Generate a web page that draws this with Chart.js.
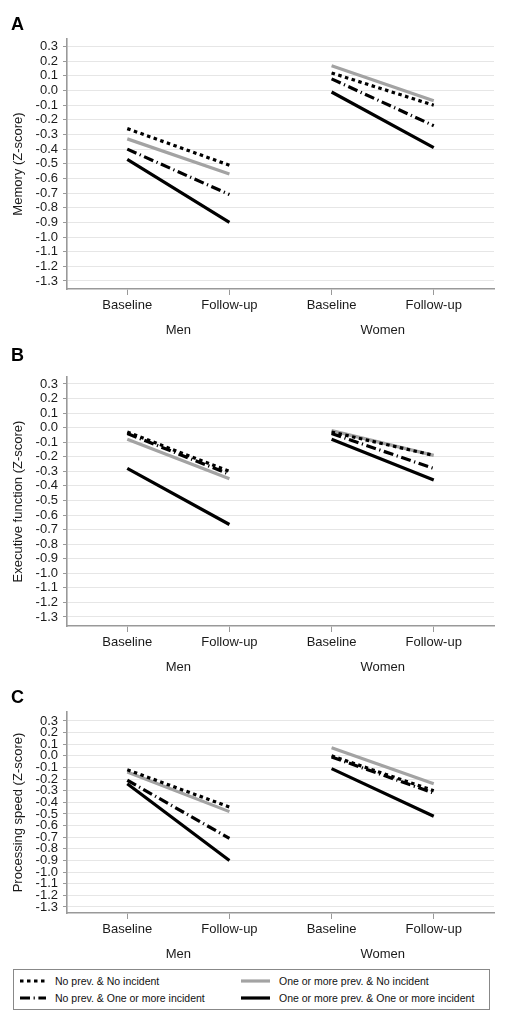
<!DOCTYPE html>
<html><head><meta charset="utf-8">
<script src="https://cdn.jsdelivr.net/npm/chart.js@4/dist/chart.umd.min.js"></script>
<style>
body{margin:0;background:#fff;width:508px;height:1020px;position:relative;overflow:hidden;font-family:"Liberation Sans",Arial,sans-serif;}
.pane{position:absolute;left:0;width:508px;}
#legend{position:absolute;left:13px;top:969px;width:477px;height:41px;border:1px solid #888;box-sizing:border-box;font-size:10.5px;color:#111;}
.item{position:absolute;display:flex;align-items:center;height:14px;white-space:nowrap;}
.item svg{margin-right:9px;}
</style></head><body>
<div class="pane" style="top:0;height:340px"><canvas id="cA"></canvas></div>
<div class="pane" style="top:340px;height:340px"><canvas id="cB"></canvas></div>
<div class="pane" style="top:680px;height:285px"><canvas id="cC"></canvas></div>
<div id="legend"></div>
<script>
// ---- data ----
const xTickLabels = ['Baseline','Follow-up','Baseline','Follow-up'];
const groupLabels = ['Men','Women'];
const yTicks = [0.3,0.2,0.1,0.0,-0.1,-0.2,-0.3,-0.4,-0.5,-0.6,-0.7,-0.8,-0.9,-1.0,-1.1,-1.2,-1.3];
const seriesNames = ['No prev. & No incident','One or more prev. & No incident','No prev. & One or more incident','One or more prev. & One or more incident'];
const yTitles = ['Memory (Z-score)','Executive function (Z-score)','Processing speed (Z-score)'];
const panelLetters = ['A','B','C'];
// values: [Men baseline, Men follow-up, Women baseline, Women follow-up]
const memNoNo     = [-0.26,-0.51, 0.12,-0.10];
const memPrevNo   = [-0.33,-0.57, 0.17,-0.07];
const memNoInc    = [-0.40,-0.71, 0.08,-0.24];
const memPrevInc  = [-0.47,-0.90,-0.01,-0.39];
const exeNoNo     = [-0.03,-0.30,-0.03,-0.19];
const exePrevNo   = [-0.08,-0.35,-0.02,-0.19];
const exeNoInc    = [-0.04,-0.32,-0.04,-0.28];
const exePrevInc  = [-0.28,-0.665,-0.08,-0.36];
const spdNoNo     = [-0.12,-0.44, 0.00,-0.30];
const spdPrevNo   = [-0.14,-0.48, 0.07,-0.24];
const spdNoInc    = [-0.21,-0.71,-0.01,-0.32];
const spdPrevInc  = [-0.24,-0.90,-0.11,-0.52];

// ---- styles ----
const styles = [
  {borderColor:'#000', borderWidth:3.2, borderDash:[3.5,3.5]},
  {borderColor:'#a3a3a3', borderWidth:3.2, borderDash:[]},
  {borderColor:'#000', borderWidth:3.2, borderDash:[10,3.6,1.2,3.6]},
  {borderColor:'#000', borderWidth:3.2, borderDash:[]}
];
const drawOrder = [0,3,1,2];

function pts(v){
  return [{x:1,y:v[0]},{x:2,y:v[1]},{x:2.5,y:null},{x:3,y:v[2]},{x:4,y:v[3]}];
}

const annot = {
  id:'annot',
  afterDraw(chart, args, opts){
    const ctx=chart.ctx, xs=chart.scales.x, a=chart.chartArea;
    ctx.save();
    ctx.fillStyle='#1a1a1a';
    ctx.font='13px "Liberation Sans", Arial, sans-serif';
    ctx.textAlign='center'; ctx.textBaseline='middle';
    groupLabels.forEach((g,i)=>ctx.fillText(g, xs.getPixelForValue(1.5+2*i), a.bottom+opts.groupOffset));
    ctx.font='bold 18px "Liberation Sans", Arial, sans-serif';
    ctx.textAlign='left'; ctx.fillStyle='#000';
    ctx.fillText(opts.letter, 11, opts.letterY);
    ctx.restore();
  }
};

function makeChart(id, idx, series, padTop, xHeight, yMin, yMax, letterY){
  new Chart(document.getElementById(id), {
    type:'line',
    data:{datasets: series.map((s,i)=>Object.assign({
      label:seriesNames[i], data:pts(s), pointRadius:0, fill:false, tension:0,
      spanGaps:false, order:drawOrder[i], borderCapStyle:'butt'
    }, styles[i]))},
    options:{
      responsive:true, maintainAspectRatio:false, animation:false,
      layout:{padding:{top:padTop,right:14,left:0,bottom:0}},
      plugins:{legend:{display:false}, tooltip:{enabled:false},
        annot:{letter:panelLetters[idx], letterY:letterY, groupOffset:41}},
      scales:{
        x:{type:'linear', min:0.41, max:4.59,
          afterBuildTicks:(s)=>{s.ticks=[1,2,3,4].map(v=>({value:v}));},
          afterFit:(s)=>{s.height=xHeight;},
          ticks:{callback:(v,i)=>xTickLabels[i], color:'#1a1a1a', padding:3, autoSkip:false, maxRotation:0,
            font:{family:'"Liberation Sans", Arial, sans-serif', size:13}},
          grid:{drawOnChartArea:false, drawTicks:true, tickLength:6, tickColor:'#999', color:'#999'},
          border:{display:true, color:'#999', width:1.6}
        },
        y:{min:yMin, max:yMax,
          afterBuildTicks:(s)=>{s.ticks=yTicks.map(v=>({value:v}));},
          afterFit:(s)=>{s.width=67;},
          ticks:{callback:(v)=>(Math.abs(v)<1e-9?0:v).toFixed(1), color:'#1a1a1a', padding:5, autoSkip:false,
            font:{family:'"Liberation Sans", Arial, sans-serif', size:13}},
          grid:{color:'#e6e6e6', lineWidth:1, tickLength:4, tickColor:'#999'},
          border:{display:true, color:'#999', width:1.6},
          title:{display:true, text:yTitles[idx], color:'#1a1a1a', padding:{top:11,bottom:0},
            font:{family:'"Liberation Sans", Arial, sans-serif', size:13}}
        }
      }
    },
    plugins:[annot]
  });
}

makeChart('cA',0,[memNoNo,memPrevNo,memNoInc,memPrevInc],39,51,-1.355,0.352,25);
makeChart('cB',1,[exeNoNo,exePrevNo,exeNoInc,exePrevInc],37,54,-1.362,0.348,16);
makeChart('cC',2,[spdNoNo,spdPrevNo,spdNoInc,spdPrevInc],32,52,-1.352,0.377,18);

// ---- legend ----
const legendPos = [[6,4],[227,4],[6,21],[227,21]];
const legendOrder = [0,1,2,3];
const lg = document.getElementById('legend');
legendOrder.forEach((i,k)=>{
  const st = styles[i];
  const d = document.createElement('div');
  d.className='item';
  d.style.left=legendPos[k][0]+'px'; d.style.top=legendPos[k][1]+'px';
  const w = i===1||i===3 ? 29 : 26;
  d.innerHTML = '<svg width="'+w+'" height="6"><line x1="0" y1="3" x2="'+w+'" y2="3" stroke="'+st.borderColor+
    '" stroke-width="3.2" stroke-dasharray="'+(st.borderDash.length?st.borderDash.join(','):'none')+'"/></svg><span>'+seriesNames[i]+'</span>';
  lg.appendChild(d);
});
</script>
</body></html>
